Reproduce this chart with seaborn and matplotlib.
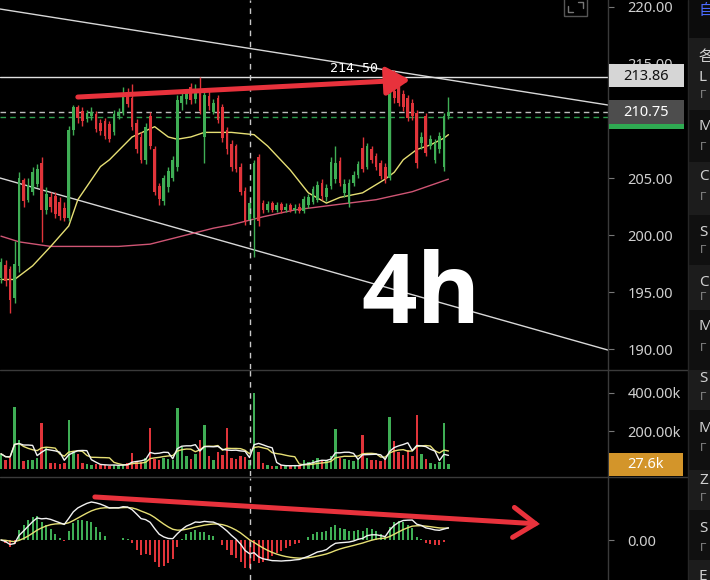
import numpy as np
import pandas as pd
import matplotlib
matplotlib.use("Agg")
import matplotlib.pyplot as plt
import seaborn as sns
from matplotlib.patches import Rectangle, FancyArrowPatch
from matplotlib.lines import Line2D

# ---------------- data ----------------
opens = [196.2, 197.4, 197.0, 194.5, 197.3, 204.8, 203.1, 203.8, 204.5, 206.3,
         202.2, 203.3, 203.4, 202.9, 202.4, 201.5, 209.2, 211.2, 210.9, 210.2,
         210.4, 210.6, 209.8, 210.0, 209.7, 209.0, 210.4, 210.7, 212.5, 212.0,
         209.8, 208.6, 206.6, 210.4, 207.5, 204.3, 203.0, 204.2, 205.0, 206.0,
         211.6, 211.9, 213.0, 211.9, 212.7, 208.6, 212.2, 210.8, 212.0, 211.2,
         209.2, 208.0, 207.8, 206.0, 203.9, 201.3, 201.5, 206.8, 202.8, 202.2,
         202.8, 202.2, 202.7, 202.2, 202.6, 202.2, 202.5, 202.1, 202.6, 202.9,
         203.1, 204.6, 203.3, 204.3, 204.9, 206.5, 203.7, 202.8, 204.6, 205.3,
         207.6, 206.0, 207.5, 206.9, 206.3, 206.0, 205.0, 212.6, 213.0, 212.4,
         212.0, 211.6, 210.7, 208.1, 210.4, 207.8, 206.6, 207.5, 206.0, 210.4]
highs = [198.0, 197.8, 197.3, 199.5, 205.5, 205.0, 205.0, 206.0, 206.2, 206.8,
         204.2, 203.8, 203.8, 203.3, 202.9, 209.6, 211.4, 211.4, 211.2, 211.0,
         211.2, 210.9, 210.2, 210.3, 210.0, 211.0, 211.1, 213.0, 212.9, 213.2,
         210.2, 209.0, 209.8, 210.8, 207.8, 204.6, 205.3, 206.0, 206.9, 212.3,
         212.6, 212.8, 213.3, 213.2, 213.86, 212.6, 212.6, 211.9, 212.3, 211.5,
         209.5, 208.3, 208.0, 206.3, 204.2, 203.0, 206.6, 207.1, 203.1, 203.0,
         203.0, 202.9, 202.9, 202.8, 202.8, 202.7, 202.8, 203.4, 203.6, 204.3,
         204.7, 204.9, 204.5, 206.8, 207.8, 206.8, 204.9, 204.9, 205.6, 206.5,
         208.6, 208.1, 207.8, 207.2, 206.6, 206.3, 213.0, 214.5, 213.3, 212.7,
         212.3, 211.9, 211.0, 209.0, 210.7, 208.8, 208.4, 209.0, 210.7, 212.1]
lows = [195.8, 195.5, 193.2, 194.0, 196.8, 202.5, 202.9, 203.5, 204.2, 199.4,
        201.8, 202.0, 201.5, 201.3, 201.2, 201.2, 208.8, 209.8, 209.6, 209.9,
        210.1, 209.0, 208.8, 208.4, 208.2, 208.8, 210.2, 210.5, 211.2, 209.2,
        207.2, 206.3, 206.2, 207.5, 203.5, 202.6, 202.6, 203.8, 204.7, 205.6,
        211.0, 211.5, 211.5, 211.6, 210.6, 206.3, 211.0, 210.6, 209.8, 208.2,
        207.1, 205.6, 205.5, 203.5, 200.9, 201.0, 198.1, 200.8, 201.9, 202.0,
        202.0, 202.0, 201.9, 202.0, 202.0, 201.9, 201.9, 201.9, 202.4, 202.7,
        202.9, 203.1, 203.0, 204.0, 204.6, 204.3, 203.3, 202.5, 204.3, 205.0,
        205.5, 205.8, 206.3, 205.7, 204.9, 204.6, 204.8, 211.6, 211.3, 210.9,
        210.0, 210.1, 205.9, 207.5, 206.9, 207.5, 206.3, 207.2, 205.6, 210.2]
closes = [197.6, 196.0, 194.3, 197.5, 205.0, 203.0, 204.4, 205.5, 205.8, 202.2,
          203.6, 202.5, 201.8, 201.7, 201.5, 209.2, 211.2, 210.3, 210.0, 210.7,
          210.8, 209.3, 209.1, 208.7, 208.4, 210.6, 210.8, 212.4, 211.5, 209.5,
          207.5, 206.6, 209.5, 207.8, 203.8, 203.2, 205.0, 205.6, 206.6, 211.8,
          212.2, 212.5, 211.8, 212.8, 210.9, 212.3, 211.3, 211.6, 210.1, 208.5,
          207.5, 206.0, 205.8, 203.8, 201.2, 202.8, 206.3, 201.2, 202.2, 202.7,
          202.2, 202.6, 202.2, 202.5, 202.2, 202.4, 202.1, 203.2, 203.3, 204.0,
          204.4, 203.4, 204.1, 206.4, 206.3, 204.6, 204.5, 204.6, 205.3, 206.2,
          205.8, 207.8, 206.6, 206.0, 205.2, 204.9, 212.4, 212.0, 211.6, 211.2,
          210.3, 210.4, 206.3, 208.6, 207.2, 208.4, 208.1, 208.7, 210.4, 210.75]
volumes_k = [80, 50, 60, 328, 153, 40, 50, 50, 60, 242,
             115, 30, 30, 25, 30, 258, 90, 80, 30, 25,
             20, 25, 20, 20, 18, 22, 18, 25, 30, 85,
             40, 35, 60, 216, 55, 50, 60, 55, 50, 320,
             115, 70, 55, 80, 153, 232, 70, 50, 90, 75,
             216, 60, 55, 70, 65, 50, 400, 90, 30, 20,
             18, 15, 20, 15, 18, 20, 15, 50, 35, 45,
             60, 40, 45, 70, 211, 60, 55, 45, 40, 55,
             179, 60, 50, 45, 40, 55, 275, 150, 90, 75,
             100, 70, 284, 80, 55, 30, 25, 35, 242, 27.6]

ma_fast_idx = [0, 3, 7, 11, 15, 17, 22, 24, 29, 34, 37, 39, 42, 45, 51, 56,
               59, 64, 68, 72, 75, 80, 85, 87, 89, 92, 95, 98, 99]
ma_fast_val = [196.1, 196.1, 197.3, 199.0, 200.8, 203.1, 206.0, 206.6, 208.6,
               209.5, 208.6, 208.4, 208.6, 209.0, 209.0, 208.8, 207.8, 205.7,
               203.7, 202.8, 203.3, 203.7, 204.9, 205.5, 206.6, 207.5, 207.9,
               208.5, 208.8]
ma_slow_idx = [0, 4, 11, 26, 33, 40, 47, 51, 58, 65, 73, 77, 83, 91, 99]
ma_slow_val = [199.9, 199.4, 199.0, 199.0, 199.2, 199.9, 200.6, 200.9, 201.6,
               202.2, 202.6, 202.8, 203.1, 203.8, 204.9]

price_ticks = [220, 215, 205, 200, 195, 190]
vol_ticks_k = [400, 200]
macd_ticks = [0.0]
last_price = 210.75
marked_price = 213.86
high_label = "214.50"
high_label_at = (72.8, 214.6)
last_vol_label = "27.6k"
crosshair_idx = 55
trend_upper = ([-0.22, 134.3], [219.82, 211.40])
trend_lower = ([-0.22, 134.3], [205.00, 189.91])
price_arrow = ((17.0, 212.1), (90.5, 213.6))
macd_arrow = ((0.156, 0.814), (0.888, 0.549))
side_letters = [("自", 12, "#4b6bff"), ("各", 58, "#d0d0d0"), ("L", 78, "#d0d0d0"),
                ("M", 127, "#d0d0d0"), ("C", 177, "#d0d0d0"), ("S", 232, "#d0d0d0"),
                ("C", 282, "#d0d0d0"), ("M", 327, "#d0d0d0"), ("S", 378, "#d0d0d0"),
                ("M", 428, "#d0d0d0"), ("Z", 480, "#d0d0d0"), ("S", 528, "#d0d0d0"),
                ("E", 576, "#d0d0d0")]
side_marks_y = [95, 147, 197, 250, 297, 348, 397, 448, 498, 548]
side_rows = [(38, 110, "#1c1c1c"), (110, 162, "#101010"), (162, 215, "#1c1c1c"),
             (215, 265, "#101010"), (265, 310, "#1c1c1c"), (310, 370, "#101010"),
             (370, 410, "#1c1c1c"), (410, 470, "#101010"), (470, 510, "#1c1c1c"),
             (510, 560, "#101010"), (560, 580, "#1c1c1c")]

# ---------------- style ----------------
sns.set_theme(style="dark")
plt.rcParams['font.family'] = ['Noto Sans', 'Noto Sans CJK SC', 'DejaVu Sans']
plt.rcParams['axes.facecolor'] = 'black'

GREEN = "#3fae55"
RED = "#e0343a"
GRID_TXT = "#cfcfcf"
W, H = 710, 580

df = pd.DataFrame({"open": opens, "high": highs, "low": lows, "close": closes,
                   "vol": volumes_k})
df["idx"] = np.arange(len(df))
df["up"] = df["close"] >= df["open"]
df["vma5"] = df["vol"].rolling(5, min_periods=1).mean()
df["vma10"] = df["vol"].rolling(10, min_periods=1).mean()
ema12 = df["close"].ewm(span=12, adjust=False).mean()
ema26 = df["close"].ewm(span=26, adjust=False).mean()
df["dif"] = ema12 - ema26
df["dea"] = df["dif"].ewm(span=9, adjust=False).mean()
df["hist"] = 2 * (df["dif"] - df["dea"])

fig = plt.figure(figsize=(W / 100, H / 100), dpi=100, facecolor="black")


def rect(x0, y0, x1, y1):
    return [x0 / W, 1 - y1 / H, (x1 - x0) / W, (y1 - y0) / H]


def fx(x):
    return x / W


def fy(y):
    return 1 - y / H


ax_p = fig.add_axes(rect(0, 0, 608, 369))
ax_v = fig.add_axes(rect(0, 370, 608, 476))
ax_m = fig.add_axes(rect(0, 478, 608, 580))

xlim = (-0.22, 134.3)
for ax in (ax_p, ax_v, ax_m):
    ax.set_facecolor("black")
    ax.set_xlim(*xlim)
    ax.grid(False)
    for s in ("left", "top", "bottom"):
        ax.spines[s].set_visible(False)
    ax.spines["right"].set_color("#3a3a3a")
    ax.spines["right"].set_linewidth(1)
    ax.set_xticks([])
    ax.yaxis.tick_right()
    ax.tick_params(axis="y", colors="#777777", labelcolor=GRID_TXT, length=4,
                   width=0.8, pad=10, labelsize=10.5, direction="out")

# ---------------- price panel ----------------
ax_p.set_ylim(188.25, 220.61)
ax_p.set_yticks(price_ticks)
ax_p.set_yticklabels([f"{t:.2f}" for t in price_ticks])

sns.lineplot(x=trend_upper[0], y=trend_upper[1], ax=ax_p, color="#d8d8d8", lw=1.0)
sns.lineplot(x=trend_lower[0], y=trend_lower[1], ax=ax_p, color="#d8d8d8", lw=1.0)
ax_p.axhline(marked_price, color="#e0e0e0", lw=1.0)
ax_p.axhline(last_price, color="#bdbdbd", lw=1.0, ls=(0, (4, 3)))
ax_p.axhline(last_price - 0.4, color="#2e9e4e", lw=1.0, ls=(0, (4, 3)))

sns.lineplot(x=ma_slow_idx, y=ma_slow_val, ax=ax_p, color="#cf5574", lw=1.0)
sns.lineplot(x=ma_fast_idx, y=ma_fast_val, ax=ax_p, color="#e6df74", lw=1.0)

colors = np.where(df["up"], GREEN, RED)
ax_p.vlines(df["idx"], df["low"], df["high"], colors=colors, lw=1.0, zorder=3)
body_h = (df["close"] - df["open"]).abs().clip(lower=0.12)
body_b = df[["open", "close"]].min(axis=1)
ax_p.bar(df["idx"], body_h, bottom=body_b, width=0.6, color=colors,
         linewidth=0, zorder=4)

ax_p.text(high_label_at[0], high_label_at[1], high_label, color="white",
          fontsize=9.5, family="DejaVu Sans Mono", ha="left", va="center", zorder=6)

arr = FancyArrowPatch(price_arrow[0], price_arrow[1],
                      arrowstyle="-|>,head_length=1.0,head_width=0.6",
                      mutation_scale=14.4, color="#e8323c", lw=3.6,
                      shrinkA=0, shrinkB=0, zorder=7, transform=ax_p.transData)
ax_p.add_patch(arr)

for ax in (ax_p, ax_v, ax_m):
    ax.axvline(crosshair_idx, color="#c8c8c8", lw=1.0, ls=(0, (4, 4)), zorder=5)

# ---------------- volume panel ----------------
ax_v.bar(df["idx"], df["vol"], width=0.55, color=colors, linewidth=0, zorder=2)
sns.lineplot(x=df["idx"], y=df["vma10"], ax=ax_v, color="#e6df74", lw=1.0)
sns.lineplot(x=df["idx"], y=df["vma5"], ax=ax_v, color="#f2f2f2", lw=1.0)
ax_v.set_ylim(-36.8, 521)
ax_v.set_yticks(vol_ticks_k)
ax_v.set_yticklabels([f"{t:.2f}k" for t in vol_ticks_k])

# ---------------- MACD panel ----------------
hcol = np.where(df["hist"] >= 0, GREEN, RED)
ax_m.bar(df["idx"], df["hist"], width=0.45, color=hcol, linewidth=0, zorder=2)
sns.lineplot(x=df["idx"], y=df["dea"], ax=ax_m, color="#e6df74", lw=1.0)
sns.lineplot(x=df["idx"], y=df["dif"], ax=ax_m, color="#f2f2f2", lw=1.0)
s = df["dif"].max() / 38.0
ax_m.set_ylim(-40 * s, 62 * s)
ax_m.set_yticks(macd_ticks)
ax_m.set_yticklabels([f"{t:.2f}" for t in macd_ticks])
arr2 = FancyArrowPatch(macd_arrow[0], macd_arrow[1],
                       arrowstyle="->,head_length=1.1,head_width=0.75",
                       mutation_scale=14.4, color="#e8323c", lw=3.6,
                       shrinkA=0, shrinkB=0, zorder=7, transform=ax_m.transAxes,
                       capstyle="round", joinstyle="miter")
ax_m.add_patch(arr2)

for ax in (ax_p, ax_v, ax_m):
    ax.set_xlabel("")
    ax.set_ylabel("")

# ---------------- figure-level decorations ----------------
for yy in (369.5, 477):
    fig.add_artist(Line2D([0, 688 / W], [fy(yy), fy(yy)], color="#3a3a3a", lw=1.0))

fig.add_artist(Rectangle((fx(609), fy(87)), 75 / W, 23 / H, facecolor="#d6d6d6",
                         edgecolor="none", zorder=10))
fig.text(fx(646), fy(76), f"{marked_price:.2f}", color="#111111", fontsize=10.5,
         ha="center", va="center", zorder=11)
fig.add_artist(Rectangle((fx(609), fy(124)), 75 / W, 24 / H, facecolor="#4d4d4d",
                         edgecolor="none", zorder=10))
fig.add_artist(Rectangle((fx(609), fy(128.5)), 75 / W, 4 / H, facecolor="#2faa52",
                         edgecolor="none", zorder=10))
fig.text(fx(646), fy(112.5), f"{last_price:.2f}", color="white", fontsize=10.5,
         ha="center", va="center", zorder=11)
fig.add_artist(Rectangle((fx(609), fy(476)), 74 / W, 23 / H, facecolor="#d3952a",
                         edgecolor="none", zorder=10))
fig.text(fx(646), fy(465), last_vol_label, color="white", fontsize=10.5,
         ha="center", va="center", zorder=11)

fig.add_artist(Rectangle((fx(564), fy(16)), 23 / W, 20 / H, facecolor="none",
                         edgecolor="#555555", lw=1.0))
fig.add_artist(Line2D([fx(568), fx(568), fx(573)], [fy(6), fy(12), fy(12)],
                      color="#777777", lw=1.0))
fig.add_artist(Line2D([fx(578), fx(583), fx(583)], [fy(2), fy(2), fy(8)],
                      color="#777777", lw=1.0))

fig.text(fx(421), fy(323), "4h", color="white", fontsize=70, fontweight="bold",
         family=["Open Sans", "DejaVu Sans"], ha="center", va="baseline", zorder=8)

fig.add_artist(Rectangle((fx(688), 0), 22 / W, 1, facecolor="#0c0c0c",
                         edgecolor="none", zorder=12))
for y0, y1, c in side_rows:
    fig.add_artist(Rectangle((fx(688), fy(y1)), 22 / W, (y1 - y0) / H,
                             facecolor=c, edgecolor="none", zorder=13))
fig.add_artist(Line2D([fx(688), fx(688)], [0, 1], color="#262626", lw=1.0,
                      zorder=14))
for ch, yy, c in side_letters:
    fig.text(fx(699), fy(yy), ch, color=c, fontsize=11, ha="left", va="center",
             zorder=15)
for yy in side_marks_y:
    fig.text(fx(700), fy(yy), "Γ", color="#8a8a8a", fontsize=8, ha="left",
             va="center", zorder=15, family="DejaVu Sans")

fig.savefig("out.png", dpi=100, facecolor="black")
